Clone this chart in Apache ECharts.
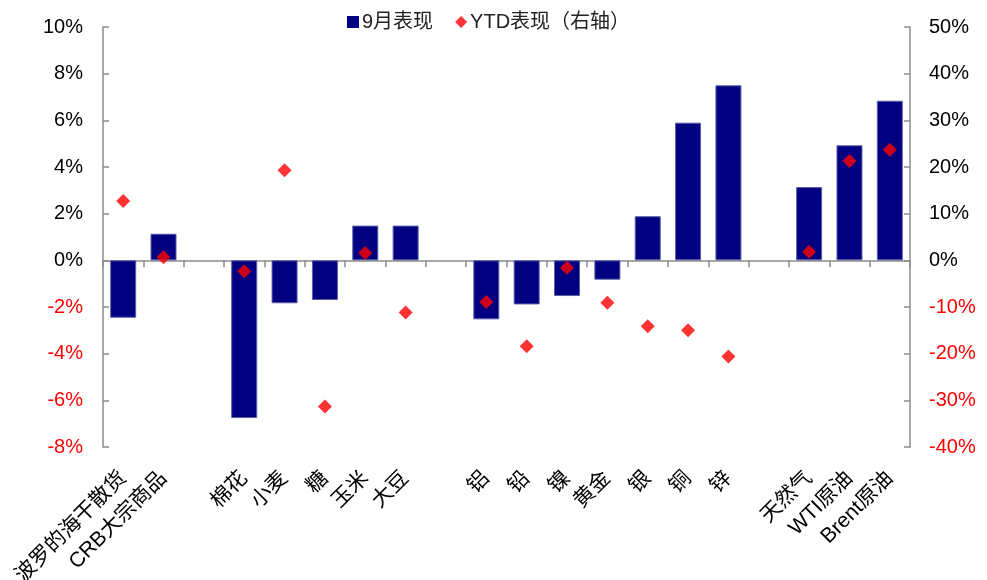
<!DOCTYPE html>
<html>
<head>
<meta charset="utf-8">
<script src="https://cdn.jsdelivr.net/npm/echarts@6/dist/echarts.min.js"></script>
<style>
  html, body { margin: 0; padding: 0; background: #fff; }
  #chart { width: 987px; height: 580px; }
</style>
</head>
<body>
<div id="chart"></div>
<script>
// Commodity categories; empty strings leave gaps between groups
const categories = ['波罗的海干散货', 'CRB大宗商品', '', '棉花', '小麦', '糖', '玉米', '大豆', '',
  '铝', '铅', '镍', '黄金', '银', '铜', '锌', '', '天然气', 'WTI原油', 'Brent原油'];

// September performance, % (left axis)
const septPerf = [-2.46, 1.14, null, -6.76, -1.84, -1.70, 1.49, 1.49, null,
  -2.53, -1.89, -1.53, -0.83, 1.89, 5.90, 7.50, null, 3.14, 4.93, 6.84];

// Year-to-date performance, % (right axis)
const ytdPerf = [12.7, 0.64, null, -2.36, 19.3, -31.3, 1.57, -11.2, null,
  -8.93, -18.4, -1.57, -9.07, -14.1, -15.0, -20.6, null, 1.86, 21.3, 23.7];

const leftTicks = { min: -8, max: 10, interval: 2 };
const rightTicks = { min: -40, max: 50, interval: 10 };

const FONT = '"Liberation Sans", Arial, "Noto Sans CJK SC", sans-serif';
const AXIS_GRAY = '#8c8c8c';
const negRed = v => (Number(v) < 0 ? '#ff0000' : '#000000');

const chart = echarts.init(document.getElementById('chart'));
chart.setOption({
  backgroundColor: '#ffffff',
  animation: false,
  textStyle: { fontFamily: FONT },
  legend: {
    left: 342,
    top: 7,
    itemWidth: 12,
    itemHeight: 12,
    itemGap: 22,
    textStyle: { fontSize: 20, color: '#222', fontFamily: FONT, padding: [0, 0, 0, -2] },
    data: [
      { name: '9月表现', icon: 'rect', itemStyle: { borderWidth: 0 } },
      { name: 'YTD表现（右轴）', icon: 'diamond' }
    ]
  },
  grid: { left: 103, right: 77, top: 27, bottom: 133, containLabel: false, outerBoundsMode: 'none' },
  xAxis: [
    {
      type: 'category',
      data: categories,
      position: 'bottom',
      axisLine: { show: true, onZero: true, lineStyle: { color: AXIS_GRAY, width: 1.5 } },
      axisTick: { show: true, inside: false, length: 7, interval: 0, lineStyle: { color: AXIS_GRAY, width: 1.5 } },
      axisLabel: { show: false },
      splitLine: { show: false }
    },
    {
      type: 'category',
      data: categories,
      position: 'bottom',
      axisLine: { show: false, onZero: false },
      axisTick: { show: false },
      axisLabel: {
        show: true,
        interval: 0,
        rotate: 45,
        margin: 28,
        fontSize: 21,
        color: '#000',
        fontFamily: FONT
      },
      splitLine: { show: false }
    }
  ],
  yAxis: [
    {
      type: 'value',
      min: leftTicks.min,
      max: leftTicks.max,
      interval: leftTicks.interval,
      position: 'left',
      axisLine: { show: true, lineStyle: { color: AXIS_GRAY, width: 1.5 } },
      axisTick: { show: true, inside: true, length: 6, lineStyle: { color: AXIS_GRAY, width: 1.5 } },
      axisLabel: { formatter: '{value}%', fontSize: 20, margin: 20, color: negRed, fontFamily: FONT },
      splitLine: { show: false }
    },
    {
      type: 'value',
      min: rightTicks.min,
      max: rightTicks.max,
      interval: rightTicks.interval,
      position: 'right',
      axisLine: { show: true, lineStyle: { color: AXIS_GRAY, width: 1.5 } },
      axisTick: { show: true, inside: true, length: 6, lineStyle: { color: AXIS_GRAY, width: 1.5 } },
      axisLabel: { formatter: '{value}%', fontSize: 20, margin: 19, color: negRed, fontFamily: FONT },
      splitLine: { show: false }
    }
  ],
  series: [
    {
      name: '9月表现',
      type: 'bar',
      xAxisIndex: 0,
      yAxisIndex: 0,
      data: septPerf,
      barWidth: 26,
      itemStyle: { color: '#000080', borderColor: '#5c5ca8', borderWidth: 1 }
    },
    {
      name: 'YTD表现（右轴）',
      type: 'scatter',
      xAxisIndex: 0,
      yAxisIndex: 1,
      data: ytdPerf,
      symbol: 'diamond',
      symbolSize: 14,
      itemStyle: { color: '#ff0000' },
      z: 5
    }
  ]
});
</script>
</body>
</html>
